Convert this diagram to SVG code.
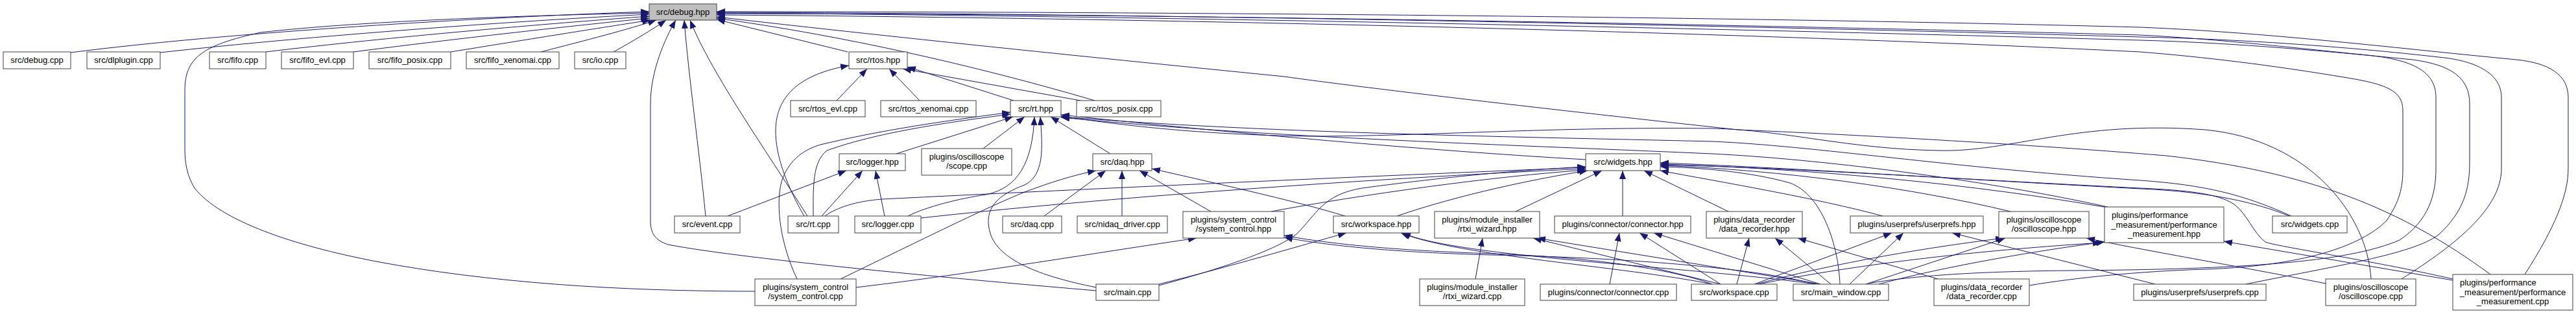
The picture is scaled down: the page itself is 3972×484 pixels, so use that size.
<svg xmlns="http://www.w3.org/2000/svg" width="3972" height="484" viewBox="0 0 3972 484">
<style>
.n rect{fill:#fff;stroke:#404040;stroke-width:1}
.n text{font-family:"Liberation Sans",Arial,sans-serif;font-size:13px;fill:#000;text-anchor:middle}
.n text.l{text-anchor:start}
#n_debug_hpp rect{fill:#bfbfbf}
.e path{fill:none;stroke:#191970;stroke-width:1;marker-end:url(#arr)}
</style>
<defs>
<marker id="arr" viewBox="0 0 13 10" refX="13" refY="5" markerWidth="13" markerHeight="10" markerUnits="userSpaceOnUse" orient="auto"><path d="M0,0 L13,5 L0,10 z" fill="#191970"/></marker>
</defs>
<rect width="3972" height="484" fill="#fff"/>
<g id="edges" class="e">
<path d="M109,81 C350,50 750,26 1001,18"/>
<path d="M247,81 C480,55 800,32 1001,22"/>
<path d="M410,80 C600,57 850,36 1001,25"/>
<path d="M545,80 C700,60 880,40 1001,28"/>
<path d="M695,80 C800,63 930,42 1003,31"/>
<path d="M834,80 C900,63 970,45 1012,31"/>
<path d="M946,80 C975,64 1005,46 1027,31"/>
<path d="M1164,449 C950,449 750,435 580,403 C450,378 340,340 300,290 C288,270 285,250 285,230 L285,140 C285,90 310,70 402,50 C550,33 800,24 1001,20"/>
<path d="M1690,448 C1500,432 1150,400 1030,377 C1010,370 1003,360 1003,340 L1003,160 C1003,110 1025,60 1042,31"/>
<path d="M1088,333 C1078,230 1062,120 1055,31"/>
<path d="M1245,333 C1180,230 1095,110 1064,31"/>
<path d="M1307,80 L1105,30"/>
<path d="M1688,155 C1500,100 1300,55 1105,28"/>
<path d="M3840,423 C3700,320 3560,265 3340,240 C3100,220 2800,205 2680,200 C2400,170 2100,135 1980,118 C1750,95 1400,60 1105,26"/>
<path d="M3893,423 C3940,350 3960,300 3960,260 L3960,150 C3960,115 3930,97 3880,92 C3700,75 3500,50 3300,42 C2700,26 1800,18 1105,18"/>
<path d="M3703,430 C3790,375 3857,320 3857,260 L3857,150 C3857,112 3815,93 3760,88 C3620,72 3450,60 3300,57 C2700,40 1800,21 1105,19"/>
<path d="M3463,438 C3600,410 3720,392 3760,362 C3800,325 3808,290 3808,250 L3808,160 C3808,120 3780,100 3720,92 C3600,80 3450,66 3300,62 C2700,45 1800,25 1105,20"/>
<path d="M2880,437 C2950,425 3050,418 3200,417 C3450,415 3620,405 3700,370 C3745,340 3756,300 3756,260 L3756,150 C3756,110 3720,92 3650,85 C3550,75 3420,60 3300,54 C2700,38 1800,21 1105,21"/>
<path d="M3129,440 C3200,428 3300,418 3400,415 C3550,410 3640,380 3680,340 C3700,310 3705,290 3705,260 L3705,170 C3705,140 3680,130 3620,120 C3500,100 3400,88 3300,80 C2700,50 1800,28 1105,23"/>
<path d="M1240,333 C1215,290 1195,240 1196,200 C1197,150 1230,115 1309,101"/>
<path d="M1290,155 L1337,106"/>
<path d="M1418,155 L1371,106"/>
<path d="M1563,155 L1399,103"/>
<path d="M1666,155 L1392,106"/>
<path d="M1254,333 C1254,290 1252,250 1275,232 C1350,205 1450,190 1558,176"/>
<path d="M1229,430 C1205,380 1195,320 1205,280 C1215,250 1235,232 1265,223 C1360,200 1460,186 1558,173"/>
<path d="M1382,237 L1562,180"/>
<path d="M1516,229 L1580,180"/>
<path d="M1400,333 C1430,318 1480,306 1520,300 C1570,290 1592,250 1595,180"/>
<path d="M1690,443 C1600,425 1540,400 1527,360 C1515,320 1540,300 1580,285 C1610,270 1608,230 1604,180"/>
<path d="M1712,237 L1620,180"/>
<path d="M2445,246 C2200,232 1900,205 1636,177"/>
<path d="M3656,430 C3650,330 3560,215 3400,200 C3200,185 3100,235 2990,232 C2850,230 2750,200 2640,198 C2400,195 2200,210 2020,210 C1850,208 1720,192 1636,179"/>
<path d="M3250,319 C3050,275 2800,245 2640,237 C2300,222 1950,212 1636,181"/>
<path d="M3533,333 C3460,300 3400,285 3300,278 C3000,258 2800,225 2640,218 C2300,210 1950,205 1636,180"/>
<path d="M1122,333 L1305,263"/>
<path d="M1267,333 L1330,263"/>
<path d="M1364,333 L1350,263"/>
<path d="M1610,333 L1705,263"/>
<path d="M1730,333 L1730,263"/>
<path d="M1867,326 L1757,263"/>
<path d="M1296,430 C1400,380 1520,320 1580,296 C1620,281 1655,270 1690,263"/>
<path d="M2074,333 C2000,310 1850,277 1776,260"/>
<path d="M1320,443 C1500,422 1700,388 1845,367"/>
<path d="M2640,438 C2580,415 2450,396 2300,391 C2150,386 2050,376 1980,363"/>
<path d="M2800,438 C2700,412 2500,397 2300,393 C2150,389 2050,379 1980,366"/>
<path d="M1272,333 C1290,320 1320,310 1360,307 C1700,290 2100,272 2445,258"/>
<path d="M1420,336 C1700,305 2100,276 2445,260"/>
<path d="M1960,326 C2100,300 2300,272 2445,262"/>
<path d="M1787,440 C1880,415 1970,385 2000,360 C2030,330 2040,300 2100,290 C2250,270 2350,262 2445,257"/>
<path d="M2154,333 C2250,300 2370,275 2448,263"/>
<path d="M2337,326 L2470,263"/>
<path d="M2502,333 L2502,263"/>
<path d="M2665,326 L2535,263"/>
<path d="M2903,333 C2800,305 2650,280 2560,263"/>
<path d="M2837,438 C2835,380 2810,300 2760,282 C2700,265 2620,258 2560,257"/>
<path d="M3100,326 C2950,290 2750,262 2560,255"/>
<path d="M3250,320 C3050,285 2800,260 2560,253"/>
<path d="M3530,333 C3450,300 3350,293 3300,291 C3000,275 2750,258 2560,251"/>
<path d="M3782,430 C3650,400 3510,380 3493,373 C3475,360 3465,330 3445,315 C3420,298 3370,293 3300,290 C3000,275 2750,258 2560,254"/>
<path d="M1787,438 C1900,410 2000,380 2076,359"/>
<path d="M2640,438 C2500,410 2250,395 2160,359"/>
<path d="M2800,438 C2600,410 2250,397 2162,359"/>
<path d="M2275,430 L2286,367"/>
<path d="M2653,438 L2364,367"/>
<path d="M2807,438 L2370,367"/>
<path d="M2482,438 L2497,359"/>
<path d="M2653,438 L2528,359"/>
<path d="M2807,438 L2550,359"/>
<path d="M2678,438 L2697,367"/>
<path d="M2823,438 L2737,367"/>
<path d="M2988,430 L2772,367"/>
<path d="M2705,438 L2917,359"/>
<path d="M2852,438 L2935,359"/>
<path d="M3323,438 L3010,359"/>
<path d="M2708,438 C2830,405 2980,380 3090,367"/>
<path d="M2877,438 L3092,367"/>
<path d="M3586,437 C3450,410 3300,385 3217,367"/>
<path d="M2712,438 C2900,400 3100,383 3240,374"/>
<path d="M2897,438 C3000,410 3150,385 3245,373"/>
<path d="M3782,432 L3429,372"/>
</g>
<g id="n_debug_hpp" class="n"><rect x="1001" y="6" width="104" height="25"/><text x="1053" y="23">src/debug.hpp</text></g>
<g id="n_debug_cpp" class="n"><rect x="5" y="80" width="104" height="26"/><text x="57" y="97">src/debug.cpp</text></g>
<g id="n_dlplugin_cpp" class="n"><rect x="134" y="80" width="113" height="26"/><text x="190.5" y="97">src/dlplugin.cpp</text></g>
<g id="n_fifo_cpp" class="n"><rect x="323" y="80" width="87" height="26"/><text x="366.5" y="97">src/fifo.cpp</text></g>
<g id="n_fifo_evl_cpp" class="n"><rect x="434" y="80" width="111" height="26"/><text x="489.5" y="97">src/fifo_evl.cpp</text></g>
<g id="n_fifo_posix_cpp" class="n"><rect x="569" y="80" width="126" height="26"/><text x="632" y="97">src/fifo_posix.cpp</text></g>
<g id="n_fifo_xenomai_cpp" class="n"><rect x="719" y="80" width="143" height="26"/><text x="790.5" y="97">src/fifo_xenomai.cpp</text></g>
<g id="n_io_cpp" class="n"><rect x="886" y="80" width="79" height="26"/><text x="925.5" y="97">src/io.cpp</text></g>
<g id="n_rtos_hpp" class="n"><rect x="1309" y="80" width="90" height="26"/><text x="1354" y="97">src/rtos.hpp</text></g>
<g id="n_rtos_evl_cpp" class="n"><rect x="1219" y="155" width="115" height="25"/><text x="1276.5" y="172">src/rtos_evl.cpp</text></g>
<g id="n_rtos_xenomai_cpp" class="n"><rect x="1358" y="155" width="147" height="25"/><text x="1431.5" y="172">src/rtos_xenomai.cpp</text></g>
<g id="n_rt_hpp" class="n"><rect x="1558" y="155" width="78" height="25"/><text x="1597" y="172">src/rt.hpp</text></g>
<g id="n_rtos_posix_cpp" class="n"><rect x="1660" y="155" width="130" height="25"/><text x="1725" y="172">src/rtos_posix.cpp</text></g>
<g id="n_logger_hpp" class="n"><rect x="1294" y="237" width="102" height="26"/><text x="1345" y="254">src/logger.hpp</text></g>
<g id="n_scope_cpp" class="n"><rect x="1421" y="229" width="139" height="41"/><text x="1490.5" y="246">plugins/oscilloscope</text><text x="1490.5" y="260">/scope.cpp</text></g>
<g id="n_daq_hpp" class="n"><rect x="1685" y="237" width="91" height="26"/><text x="1730.5" y="254">src/daq.hpp</text></g>
<g id="n_widgets_hpp" class="n"><rect x="2445" y="237" width="115" height="26"/><text x="2502.5" y="254">src/widgets.hpp</text></g>
<g id="n_event_cpp" class="n"><rect x="1040" y="333" width="101" height="26"/><text x="1090.5" y="350">src/event.cpp</text></g>
<g id="n_rt_cpp" class="n"><rect x="1215" y="333" width="78" height="26"/><text x="1254" y="350">src/rt.cpp</text></g>
<g id="n_logger_cpp" class="n"><rect x="1318" y="333" width="102" height="26"/><text x="1369" y="350">src/logger.cpp</text></g>
<g id="n_daq_cpp" class="n"><rect x="1546" y="333" width="91" height="26"/><text x="1591.5" y="350">src/daq.cpp</text></g>
<g id="n_nidaq_driver_cpp" class="n"><rect x="1661" y="333" width="139" height="26"/><text x="1730.5" y="350">src/nidaq_driver.cpp</text></g>
<g id="n_system_control_hpp" class="n"><rect x="1824" y="326" width="156" height="41"/><text x="1902" y="343">plugins/system_control</text><text x="1902" y="357">/system_control.hpp</text></g>
<g id="n_workspace_hpp" class="n"><rect x="2056" y="333" width="132" height="26"/><text x="2122" y="350">src/workspace.hpp</text></g>
<g id="n_rtxi_wizard_hpp" class="n"><rect x="2212" y="326" width="162" height="41"/><text x="2293" y="343">plugins/module_installer</text><text x="2293" y="357">/rtxi_wizard.hpp</text></g>
<g id="n_connector_hpp" class="n"><rect x="2397" y="333" width="210" height="26"/><text x="2502" y="350">plugins/connector/connector.hpp</text></g>
<g id="n_data_recorder_hpp" class="n"><rect x="2631" y="326" width="148" height="41"/><text x="2705" y="343">plugins/data_recorder</text><text x="2705" y="357">/data_recorder.hpp</text></g>
<g id="n_userprefs_hpp" class="n"><rect x="2853" y="333" width="205" height="26"/><text x="2955.5" y="350">plugins/userprefs/userprefs.hpp</text></g>
<g id="n_oscilloscope_hpp" class="n"><rect x="3082" y="326" width="139" height="41"/><text x="3151.5" y="343">plugins/oscilloscope</text><text x="3151.5" y="357">/oscilloscope.hpp</text></g>
<g id="n_performance_measurement_hpp" class="n"><rect x="3245" y="319" width="184" height="55"/><text class="l" x="3256" y="336">plugins/performance</text><text x="3337" y="350.5">_measurement/performance</text><text x="3337" y="365">_measurement.hpp</text></g>
<g id="n_widgets_cpp" class="n"><rect x="3504" y="333" width="115" height="26"/><text x="3561.5" y="350">src/widgets.cpp</text></g>
<g id="n_system_control_cpp" class="n"><rect x="1164" y="430" width="156" height="41"/><text x="1242" y="447">plugins/system_control</text><text x="1242" y="461">/system_control.cpp</text></g>
<g id="n_main_cpp" class="n"><rect x="1690" y="438" width="97" height="25"/><text x="1738.5" y="455">src/main.cpp</text></g>
<g id="n_rtxi_wizard_cpp" class="n"><rect x="2189" y="430" width="162" height="41"/><text x="2270" y="447">plugins/module_installer</text><text x="2270" y="461">/rtxi_wizard.cpp</text></g>
<g id="n_connector_cpp" class="n"><rect x="2375" y="438" width="210" height="25"/><text x="2480" y="455">plugins/connector/connector.cpp</text></g>
<g id="n_workspace_cpp" class="n"><rect x="2608" y="438" width="132" height="25"/><text x="2674" y="455">src/workspace.cpp</text></g>
<g id="n_main_window_cpp" class="n"><rect x="2765" y="438" width="147" height="25"/><text x="2838.5" y="455">src/main_window.cpp</text></g>
<g id="n_data_recorder_cpp" class="n"><rect x="2982" y="430" width="147" height="41"/><text x="3055.5" y="447">plugins/data_recorder</text><text x="3055.5" y="461">/data_recorder.cpp</text></g>
<g id="n_userprefs_cpp" class="n"><rect x="3290" y="438" width="204" height="25"/><text x="3392" y="455">plugins/userprefs/userprefs.cpp</text></g>
<g id="n_oscilloscope_cpp" class="n"><rect x="3586" y="430" width="139" height="41"/><text x="3655.5" y="447">plugins/oscilloscope</text><text x="3655.5" y="461">/oscilloscope.cpp</text></g>
<g id="n_performance_measurement_cpp" class="n"><rect x="3782" y="423" width="185" height="55"/><text class="l" x="3793" y="440">plugins/performance</text><text x="3874.5" y="454.5">_measurement/performance</text><text x="3874.5" y="469">_measurement.cpp</text></g>
</svg>
